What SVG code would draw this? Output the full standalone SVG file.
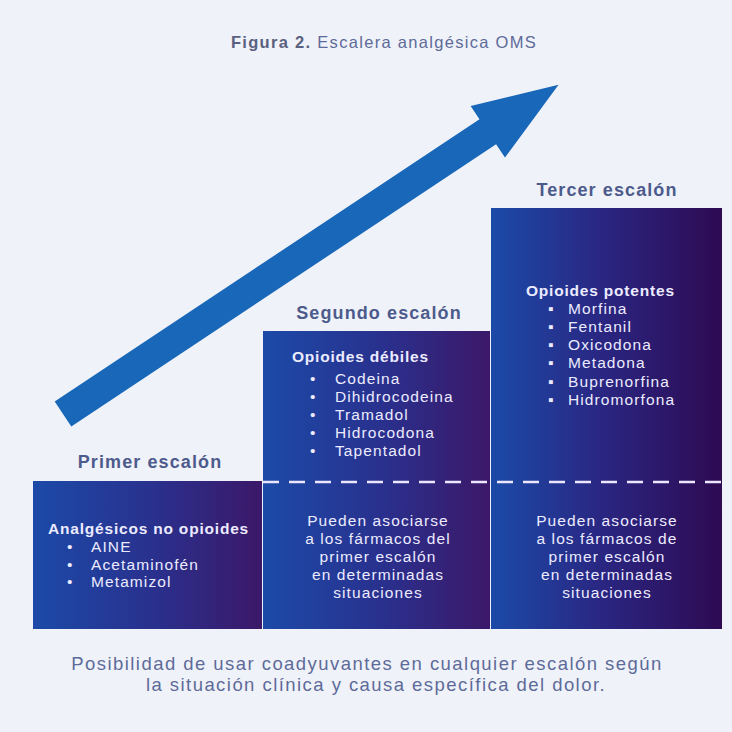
<svg xmlns="http://www.w3.org/2000/svg" width="732" height="732" viewBox="0 0 732 732">
  <defs>
    <linearGradient id="stepFill" x1="0" y1="0" x2="1" y2="0">
      <stop offset="0" stop-color="#1c4aa8"/>
      <stop offset="0.55" stop-color="#2a2f8c"/>
      <stop offset="1" stop-color="#3c1868"/>
    </linearGradient>
    <linearGradient id="stepFillDark" x1="0" y1="0" x2="1" y2="0">
      <stop offset="0" stop-color="#1c4aa8"/>
      <stop offset="0.5" stop-color="#2a2580"/>
      <stop offset="1" stop-color="#2e0a52"/>
    </linearGradient>
    <style>
      .title { font-family: "Liberation Sans", Arial, sans-serif; font-size: 16.5px; letter-spacing: 1.3px; fill: #5d6b99; }
      .step { font-family: "Liberation Sans", Arial, sans-serif; font-size: 18px; letter-spacing: 1.1px; font-weight: bold; fill: #4d5b8c; text-anchor: middle; }
      .box { font-family: "Liberation Sans", Arial, sans-serif; font-size: 15.5px; letter-spacing: 1.1px; fill: #ecebff; }
      .head { font-weight: bold; letter-spacing: 0.8px; }
      .mid { text-anchor: middle; }
      .note { font-family: "Liberation Sans", Arial, sans-serif; font-size: 18.5px; letter-spacing: 1.45px; fill: #5d6b99; text-anchor: middle; }
      .dash { stroke: #ece6ff; stroke-width: 2.5; stroke-dasharray: 16 10; fill: none; }
    </style>
  </defs>

  <!-- page background -->
  <rect x="0" y="0" width="732" height="732" fill="#f0f2f9"/>

  <text class="title" x="384" y="48" text-anchor="middle"><tspan font-weight="bold" fill="#5a6080">Figura 2.</tspan> Escalera analgésica OMS</text>

  <!-- rising arrow -->
  <g id="arrow">
    <polygon transform="translate(63,414) rotate(-33.6)" fill="#1867b8"
      points="0,-15 510,-15 510,-31 595,0 510,31 510,15 0,15"/>
  </g>

  <!-- step 1 -->
  <g id="step1">
    <rect x="33" y="481" width="229" height="148" fill="url(#stepFill)"/>
    <text class="step" x="150" y="468">Primer escalón</text>
    <text class="box head" x="48" y="534">Analgésicos no opioides</text>
    <text class="box" x="67" y="552">•</text><text class="box" x="91" y="552">AINE</text>
    <text class="box" x="67" y="569.5">•</text><text class="box" x="91" y="569.5">Acetaminofén</text>
    <text class="box" x="67" y="587">•</text><text class="box" x="91" y="587">Metamizol</text>
  </g>

  <!-- step 2 -->
  <g id="step2">
    <rect x="263" y="331" width="227" height="298" fill="url(#stepFill)"/>
    <text class="step" x="379" y="319">Segundo escalón</text>
    <text class="box head" x="292" y="362">Opioides débiles</text>
    <text class="box" x="310" y="384">•</text><text class="box" x="335" y="384">Codeina</text>
    <text class="box" x="310" y="402">•</text><text class="box" x="335" y="402">Dihidrocodeina</text>
    <text class="box" x="310" y="420">•</text><text class="box" x="335" y="420">Tramadol</text>
    <text class="box" x="310" y="438">•</text><text class="box" x="335" y="438">Hidrocodona</text>
    <text class="box" x="310" y="456">•</text><text class="box" x="335" y="456">Tapentadol</text>
    <text class="box mid" x="378" y="526">Pueden asociarse</text>
    <text class="box mid" x="378" y="544">a los fármacos del</text>
    <text class="box mid" x="378" y="562">primer escalón</text>
    <text class="box mid" x="378" y="580">en determinadas</text>
    <text class="box mid" x="378" y="598">situaciones</text>
  </g>

  <!-- step 3 -->
  <g id="step3">
    <rect x="491" y="208" width="231" height="421" fill="url(#stepFillDark)"/>
    <text class="step" x="607" y="196">Tercer escalón</text>
    <text class="box head" x="526" y="295.5">Opioides potentes</text>
    <text class="box" x="548" y="313.5">▪</text><text class="box" x="568" y="313.5">Morfina</text>
    <text class="box" x="548" y="331.5">▪</text><text class="box" x="568" y="331.5">Fentanil</text>
    <text class="box" x="548" y="350">▪</text><text class="box" x="568" y="350">Oxicodona</text>
    <text class="box" x="548" y="368">▪</text><text class="box" x="568" y="368">Metadona</text>
    <text class="box" x="548" y="386.5">▪</text><text class="box" x="568" y="386.5">Buprenorfina</text>
    <text class="box" x="548" y="405">▪</text><text class="box" x="568" y="405">Hidromorfona</text>
    <text class="box mid" x="607" y="526">Pueden asociarse</text>
    <text class="box mid" x="607" y="544">a los fármacos de</text>
    <text class="box mid" x="607" y="562">primer escalón</text>
    <text class="box mid" x="607" y="580">en determinadas</text>
    <text class="box mid" x="607" y="598">situaciones</text>
  </g>

  <!-- dashed divider across steps 2 and 3 -->
  <g id="connectors">
    <line class="dash" x1="263" y1="482" x2="722" y2="482"/>
  </g>

  <text class="note" x="367" y="670">Posibilidad de usar coadyuvantes en cualquier escalón según</text>
  <text class="note" x="376" y="691">la situación clínica y causa específica del dolor.</text>
</svg>
